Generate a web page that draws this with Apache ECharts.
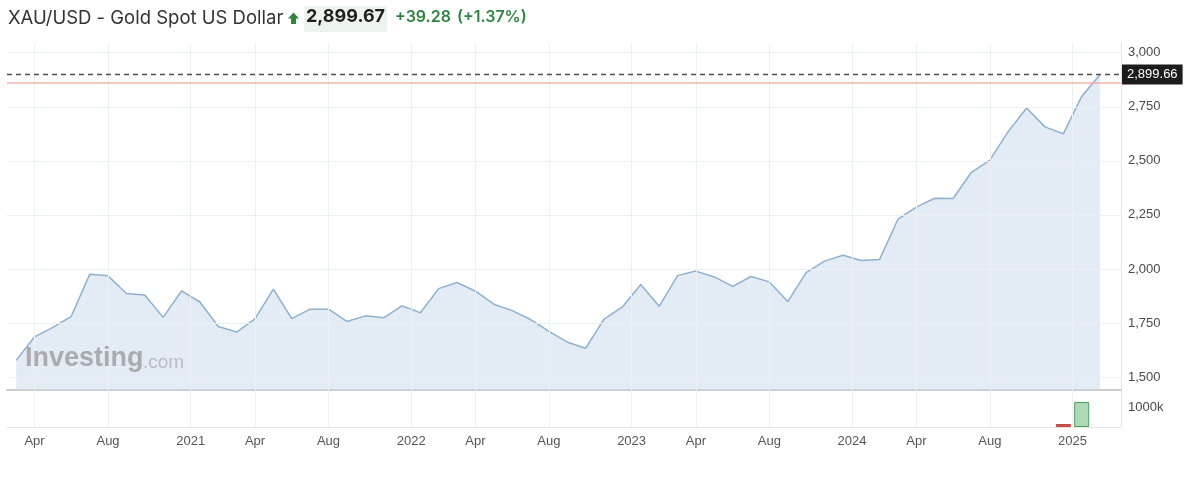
<!DOCTYPE html>
<html>
<head>
<meta charset="utf-8">
<script src="https://cdn.jsdelivr.net/npm/echarts@6/dist/echarts.min.js"></script>
<style>
html,body{margin:0;padding:0;background:#fff;}
#chart{width:1200px;height:484px;}
</style>
</head>
<body>
<div id="chart"></div>
<script>
// ---- Data (monthly close, XAU/USD) ----
const months = [
  '2020-03','2020-04','2020-05','2020-06','2020-07','2020-08','2020-09','2020-10','2020-11','2020-12',
  '2021-01','2021-02','2021-03','2021-04','2021-05','2021-06','2021-07','2021-08','2021-09','2021-10','2021-11','2021-12',
  '2022-01','2022-02','2022-03','2022-04','2022-05','2022-06','2022-07','2022-08','2022-09','2022-10','2022-11','2022-12',
  '2023-01','2023-02','2023-03','2023-04','2023-05','2023-06','2023-07','2023-08','2023-09','2023-10','2023-11','2023-12',
  '2024-01','2024-02','2024-03','2024-04','2024-05','2024-06','2024-07','2024-08','2024-09','2024-10','2024-11','2024-12',
  '2025-01','2025-02'
];
const prices = [
  1577, 1686, 1730, 1781, 1975, 1968, 1886, 1879, 1776, 1898,
  1847, 1734, 1708, 1769, 1907, 1770, 1814, 1814, 1757, 1783, 1774, 1829,
  1797, 1909, 1937, 1897, 1837, 1807, 1766, 1711, 1661, 1633, 1768, 1824,
  1928, 1827, 1969, 1990, 1963, 1919, 1965, 1940, 1849, 1983, 2036, 2063,
  2039, 2044, 2230, 2286, 2327, 2326, 2447, 2503, 2635, 2744, 2657, 2625,
  2798, 2899.66
];
const volumeMonths = ['2024-12', '2025-01'];
const volumeValues = [150000, 1270000];

const lastPrice = 2899.66;
const prevClose = 2860.39;

const yTickValues = [1500, 1750, 2000, 2250, 2500, 2750, 3000];
// x tick positions expressed in month-index units (year marks sit between Dec and Jan)
const xTickPositions = [1, 5, 9.5, 13, 17, 21.5, 25, 29, 33.5, 37, 41, 45.5, 49, 53, 57.5];
const xTickLabels = ['Apr','Aug','2021','Apr','Aug','2022','Apr','Aug','2023','Apr','Aug','2024','Apr','Aug','2025'];

// ---- Build ----
const priceData = prices.map((p, i) => [i, p]);
const volData = volumeMonths.map((m, k) => {
  const i = months.indexOf(m);
  const up = prices[i] >= prices[i - 1];
  return {
    value: [i, volumeValues[k]],
    itemStyle: up
      ? { color: '#acd9b4', borderColor: '#4e9e5c', borderWidth: 1 }
      : { color: '#d9534f', borderColor: '#b94440', borderWidth: 1 }
  };
});

const FONT = "'Liberation Sans', Arial, sans-serif";
const gridColor = '#edf0f3';

const xLabelFmt = v => {
  const k = xTickPositions.findIndex(t => Math.abs(t - v) < 1e-6);
  return k >= 0 ? xTickLabels[k] : '';
};

const chart = echarts.init(document.getElementById('chart'), null, { renderer: 'canvas' });

const xCommon = {
  type: 'value', min: -0.5, max: 60.14, interval: 0.5,
  axisTick: { show: false }, splitLine: { show: false }
};

const option = {
  animation: false,
  backgroundColor: '#ffffff',
  grid: [
    { left: 7, right: 79, top: 43, height: 347 },
    { left: 7, right: 79, top: 390, height: 37 }
  ],
  xAxis: [
    Object.assign({}, xCommon, {
      gridIndex: 0,
      axisLabel: { show: false },
      axisLine: { show: true, onZero: false, lineStyle: { color: '#cdcdcd', width: 2 } }
    }),
    Object.assign({}, xCommon, {
      gridIndex: 1,
      axisLine: { show: true, onZero: false, lineStyle: { color: '#e6e6e6', width: 1 } },
      axisLabel: {
        show: true, formatter: xLabelFmt, color: '#555', fontSize: 13, fontFamily: FONT, margin: 8,
        showMinLabel: true, showMaxLabel: false
      }
    })
  ],
  yAxis: [
    {
      type: 'value', gridIndex: 0, position: 'right',
      min: 1440, max: 3045, interval: 10,
      splitLine: { show: false },
      axisTick: { show: false },
      axisLine: { show: true, onZero: false, lineStyle: { color: '#e3e3e3', width: 1 } },
      axisLabel: {
        color: '#4a4a4a', fontSize: 13, fontFamily: FONT, margin: 7,
        showMinLabel: false, showMaxLabel: false,
        formatter: v => (yTickValues.indexOf(Math.round(v)) >= 0 && Math.abs(v - Math.round(v)) < 1e-6)
          ? Math.round(v).toLocaleString('en-US') : ''
      }
    },
    {
      type: 'value', gridIndex: 1, position: 'right',
      min: 0, max: 1880000, interval: 1000000,
      splitLine: { show: false },
      axisTick: { show: false },
      axisLine: { show: true, onZero: false, lineStyle: { color: '#e3e3e3', width: 1 } },
      axisLabel: {
        color: '#4a4a4a', fontSize: 13, fontFamily: FONT, margin: 7,
        showMaxLabel: false,
        formatter: v => (Math.round(v) === 1000000 ? '1000k' : '')
      }
    }
  ],
  series: [
    // grid lines for the price pane
    {
      type: 'line', xAxisIndex: 0, yAxisIndex: 0, data: [], z: 1, silent: true,
      markLine: {
        silent: true, symbol: ['none', 'none'], animation: false,
        label: { show: false },
        lineStyle: { color: gridColor, width: 1, type: 'solid' },
        data: yTickValues.map(v => ({ yAxis: v })).concat(xTickPositions.map(v => ({ xAxis: v })))
      }
    },
    // price area line
    {
      name: 'XAU/USD', type: 'line', xAxisIndex: 0, yAxisIndex: 0, z: 2,
      data: priceData, showSymbol: false, symbol: 'none',
      lineStyle: { color: '#8fb0d0', width: 1.5 },
      areaStyle: { color: '#c8d9ea', opacity: 0.5 },
      markLine: {
        silent: true, symbol: ['none', 'none'], animation: false,
        data: [
          {
            yAxis: prevClose,
            lineStyle: { color: '#f2b3ae', width: 1.5, type: 'solid' },
            label: { show: false }
          },
          {
            yAxis: lastPrice,
            lineStyle: { color: '#4d4d4d', width: 1.4, type: [5, 4] },
            label: {
              show: true, position: 'end', distance: 1,
              formatter: () => lastPrice.toLocaleString('en-US', { minimumFractionDigits: 2, maximumFractionDigits: 2 }),
              color: '#ffffff', backgroundColor: '#1c1c1c',
              fontSize: 13, fontFamily: FONT, padding: [4, 5, 3, 5], borderRadius: 0
            }
          }
        ]
      }
    },
    // grid lines for the volume pane
    {
      type: 'line', xAxisIndex: 1, yAxisIndex: 1, data: [], z: 1, silent: true,
      markLine: {
        silent: true, symbol: ['none', 'none'], animation: false,
        label: { show: false },
        lineStyle: { color: gridColor, width: 1, type: 'solid' },
        data: xTickPositions.map(v => ({ xAxis: v }))
      }
    },
    // volume bars
    {
      name: 'Volume', type: 'bar', xAxisIndex: 1, yAxisIndex: 1, z: 2,
      barWidth: 15, data: volData
    }
  ],
  graphic: [
    { type: 'text', left: 8, top: 9, style: { text: 'XAU/USD - Gold Spot US Dollar', fill: '#333', font: "18.5px Inter, 'Noto Sans', sans-serif" } },
    { type: 'polygon', shape: { points: [[293.5, 12.5], [299, 18.5], [296, 18.5], [296, 24], [291, 24], [291, 18.5], [288, 18.5]] }, style: { fill: '#2e8540' } },
    { type: 'rect', shape: { x: 304, y: 6, width: 83, height: 26 }, style: { fill: '#edf3ef' } },
    { type: 'text', left: 306, top: 8, style: { text: '2,899.67', fill: '#1f1f1f', font: "bold 18px Inter, 'Noto Sans', sans-serif" } },
    { type: 'text', left: 395, top: 9, style: { text: '+39.28', fill: '#2e8540', font: "600 16px Inter, 'Noto Sans', sans-serif" } },
    { type: 'text', left: 457, top: 9, style: { text: '(+1.37%)', fill: '#2e8540', font: "600 16px Inter, 'Noto Sans', sans-serif" } },
    { type: 'text', left: 25, top: 345, z: 100, style: { text: 'Investing', fill: 'rgba(150,150,150,0.75)', font: "bold 27px 'Liberation Sans', Arial, sans-serif" } },
    { type: 'text', left: 143, top: 353, z: 100, style: { text: '.com', fill: 'rgba(170,170,170,0.7)', font: "19px 'Liberation Sans', Arial, sans-serif" } }
  ]
};

chart.setOption(option);
</script>
</body>
</html>
